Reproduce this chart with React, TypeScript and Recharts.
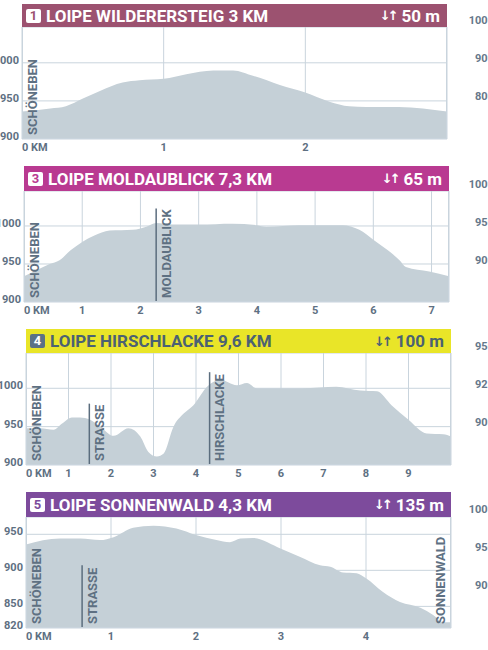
import React from "react";
import { AreaChart, Area, XAxis, YAxis, CartesianGrid, ReferenceLine } from "recharts";

const FONT = "Roboto, 'Noto Sans', sans-serif";
const TEXT = "#5e7082";
const GRID = "#c9d4dd";
const FILL = "#c5d0d7";

// Loipe 1 – Wilderersteig
const wildKm = [0, 0.2, 0.31, 0.43, 0.55, 0.71, 0.83, 1.0, 1.16, 1.35, 1.49, 1.63, 1.82, 2.0, 2.17, 2.31, 2.43, 2.66, 2.83, 3.0];
const wildElev = [936, 940, 943, 953, 963, 974, 977, 979, 985, 990, 990, 983, 971, 961, 949, 943, 942, 942, 940, 936];

// Loipe 3 – Moldaublick
const moldKm = [0, 0.2, 0.44, 0.61, 0.8, 1.0, 1.2, 1.47, 1.87, 2.1, 2.27, 2.55, 3.0, 3.58, 4.0, 4.16, 4.73, 5.47, 5.76, 6.0, 6.25, 6.45, 6.56, 6.96, 7.3];
const moldElev = [934, 941, 950, 955, 968, 979, 987, 994, 995, 999, 1004, 1002, 1002, 1003, 1001, 999, 1001, 1001, 995, 982, 968, 955, 946, 940, 934];

// Loipe 4 – Hirschlacke
const hirschKm = [0, 0.33, 0.65, 0.85, 1.08, 1.27, 1.51, 1.75, 2.06, 2.41, 2.69, 2.88, 3.08, 3.24, 3.47, 3.71, 3.94, 4.26, 4.57, 4.96, 5.2, 5.43, 6.5, 7.3, 7.87, 8.26, 8.6, 9.0, 9.43, 9.82, 10];
const hirschElev = [948, 948, 946, 954, 962, 962, 959, 950, 938, 948, 937, 917, 911, 915, 950, 967, 978, 1002, 1011, 1004, 1007, 1000, 1000, 1002, 997, 996, 978, 959, 941, 940, 937];

// Loipe 5 – Sonnenwald
const sonneKm = [0, 0.4, 0.64, 0.87, 1.03, 1.26, 1.5, 1.77, 2.0, 2.24, 2.4, 2.52, 2.67, 3.0, 3.22, 3.46, 3.58, 3.73, 3.89, 4.0, 4.2, 4.4, 4.64, 4.79, 4.91, 5.0];
const sonneElev = [936, 944, 944, 942, 946, 959, 962, 958, 949, 942, 939, 944, 945, 930, 919, 907, 905, 897, 896, 889, 870, 856, 848, 838, 828, 828];

const titles = ["LOIPE WILDERERSTEIG 3 KM", "LOIPE MOLDAUBLICK 7,3 KM", "LOIPE HIRSCHLACKE 9,6 KM", "LOIPE SONNENWALD 4,3 KM"];
const numbers = ["1", "3", "4", "5"];
const climbs = ["50 m", "65 m", "100 m", "135 m"];

const yTicks1 = [900, 950, 1000];
const yTicks3 = [900, 950, 1000];
const yTicks4 = [900, 950, 1000];
const yTicks5 = [820, 850, 900, 950];

const xTicks1 = [0, 1, 2];
const xTicks3 = [0, 1, 2, 3, 4, 5, 6, 7];
const xTicks4 = [0, 1, 2, 3, 4, 5, 6, 7, 8, 9];
const xTicks5 = [0, 1, 2, 3, 4];

// labels of the neighbouring column, cut by the page edge
const side1 = ["1000", "900", "800"];
const side3 = ["1000", "950", "900"];
const side4 = ["950", "925", "900"];
const side5 = ["1000", "950", "900"];

const markers1 = [{ km: 0, name: "SCHÖNEBEN", top: null }];
const markers3 = [{ km: 0, name: "SCHÖNEBEN", top: null }, { km: 2.27, name: "MOLDAUBLICK", top: 1023 }];
const markers4 = [
  { km: 0, name: "SCHÖNEBEN", top: null },
  { km: 1.49, name: "STRASSE", top: 980 },
  { km: 4.32, name: "HIRSCHLACKE", top: 1021 },
];
const markers5 = [
  { km: 0, name: "SCHÖNEBEN", top: null },
  { km: 0.66, name: "STRASSE", top: 907 },
  { km: 4.76, name: "SONNENWALD", top: null },
];

const toRows = (km: number[], elev: number[]) => km.map((k, i) => ({ km: k, elev: elev[i] }));

const panels = [
  { data: toRows(wildKm, wildElev), xMax: 3, yDomain: [900, 1047], yTicks: yTicks1, xTicks: xTicks1, markers: markers1, side: side1,
    color: "#9c5270", ink: "#ffffff", badgeBg: "#ffffff", badgeInk: "#9c5270",
    left: 22, right: 447, headTop: 4, top: 27, bottom: 139, sideTop: 21 },
  { data: toRows(moldKm, moldElev), xMax: 7.3, yDomain: [900, 1046], yTicks: yTicks3, xTicks: xTicks3, markers: markers3, side: side3,
    color: "#b93a91", ink: "#ffffff", badgeBg: "#ffffff", badgeInk: "#b93a91",
    left: 24, right: 449, headTop: 166, top: 191, bottom: 302, sideTop: 185 },
  { data: toRows(hirschKm, hirschElev), xMax: 10, yDomain: [900, 1046], yTicks: yTicks4, xTicks: xTicks4, markers: markers4, side: side4,
    color: "#e9e528", ink: "#4b6173", badgeBg: "#5b7186", badgeInk: "#ffffff",
    left: 26, right: 451, headTop: 329, top: 353, bottom: 465, sideTop: 347 },
  { data: toRows(sonneKm, sonneElev), xMax: 5, yDomain: [820, 974], yTicks: yTicks5, xTicks: xTicks5, markers: markers5, side: side5,
    color: "#7d4b9c", ink: "#ffffff", badgeBg: "#ffffff", badgeInk: "#7d4b9c",
    left: 26, right: 451, headTop: 492, top: 517, bottom: 628, sideTop: 510 },
];

const XTick = (props: any) => {
  const { x, y, payload } = props;
  const first = payload.value === 0;
  return (
    <text x={x} y={y + 12} textAnchor={first ? "start" : "middle"} fill={TEXT}
      style={{ fontFamily: FONT, fontWeight: 700, fontSize: 11 }}>
      {first ? "0 KM" : payload.value}
    </text>
  );
};

const YTick = (props: any) => {
  const { x, y, payload } = props;
  return (
    <text x={x} y={y + 1} textAnchor="end" fill={TEXT}
      style={{ fontFamily: FONT, fontWeight: 700, fontSize: 11 }}>
      {payload.value}
    </text>
  );
};

const markerLabel = (name: string) => (props: any) => {
  const vb = props.viewBox || {};
  const bx = vb.x + 14.5;
  const by = vb.y + vb.height - 4;
  return (
    <text x={bx} y={by} transform={`rotate(-90 ${bx} ${by})`} fill={TEXT}
      style={{ fontFamily: FONT, fontWeight: 700, fontSize: 13 }}>
      {name}
    </text>
  );
};

function Panel({ p, i }: { p: any; i: number }) {
  const h = p.bottom - p.top;
  return (
    <>
      <div style={{ position: "absolute", left: p.left, top: p.headTop, width: p.right - p.left, height: p.top - p.headTop,
        background: p.color, display: "flex", alignItems: "center", boxSizing: "border-box", padding: "0 7px 0 4px",
        fontFamily: FONT, fontWeight: 700, color: p.ink }}>
        <span style={{ width: 15, height: 14, lineHeight: "14px", borderRadius: 2, background: p.badgeBg, color: p.badgeInk,
          fontSize: 13, textAlign: "center", marginRight: 5 }}>{numbers[i]}</span>
        <span style={{ fontSize: 17 }}>{titles[i]}</span>
        <span style={{ marginLeft: "auto", display: "flex", alignItems: "center" }}>
          <span style={{ fontFamily: "'DejaVu Sans', sans-serif", fontWeight: 700, fontSize: 13, letterSpacing: -3, marginRight: 6 }}>↓↑</span>
          <span style={{ fontSize: 17 }}>{climbs[i]}</span>
        </span>
      </div>
      <div style={{ position: "absolute", left: 0, top: p.top }}>
        <AreaChart width={488} height={h + 20} data={p.data} margin={{ top: 0, right: 488 - p.right, bottom: 0, left: 0 }}>
          <CartesianGrid stroke={GRID} strokeWidth={1} />
          <XAxis dataKey="km" type="number" domain={[0, p.xMax]} ticks={p.xTicks} interval={0} height={20}
            axisLine={false} tickLine={false} tickSize={0} tickMargin={0} tick={<XTick />} allowDataOverflow />
          <YAxis type="number" domain={p.yDomain} ticks={p.yTicks} interval={0} width={p.left}
            axisLine={false} tickLine={false} tickSize={0} tickMargin={3} tick={<YTick />} allowDataOverflow />
          <Area type="monotone" dataKey="elev" stroke="none" fill={FILL} fillOpacity={1} isAnimationActive={false} />
          {p.markers.map((m: any) =>
            m.top === null ? (
              <ReferenceLine key={m.name} x={m.km} stroke="none" label={markerLabel(m.name)} />
            ) : (
              <ReferenceLine key={m.name} segment={[{ x: m.km, y: p.yDomain[0] }, { x: m.km, y: m.top }]}
                stroke="#5b6d7e" strokeWidth={1.5} label={markerLabel(m.name)} />
            )
          )}
        </AreaChart>
      </div>
      <div style={{ position: "absolute", left: p.left, top: p.top, width: p.right - p.left, height: h,
        borderLeft: `1px solid ${GRID}`, borderRight: `1px solid ${GRID}`, borderBottom: `1px solid ${GRID}`,
        boxSizing: "border-box", pointerEvents: "none" }} />
      {p.side.map((s: string, k: number) => (
        <div key={s + k} style={{ position: "absolute", left: 434, width: 60, top: p.sideTop + k * 38 - 7, textAlign: "right",
          fontFamily: FONT, fontWeight: 700, fontSize: 11, color: "#66788a", lineHeight: "14px" }}>{s}</div>
      ))}
    </>
  );
}

export default function App() {
  return (
    <div style={{ position: "fixed", left: 0, top: 0, width: 488, height: 650, overflow: "hidden", background: "#fff" }}>
      {panels.map((p, i) => <Panel key={i} p={p} i={i} />)}
    </div>
  );
}
